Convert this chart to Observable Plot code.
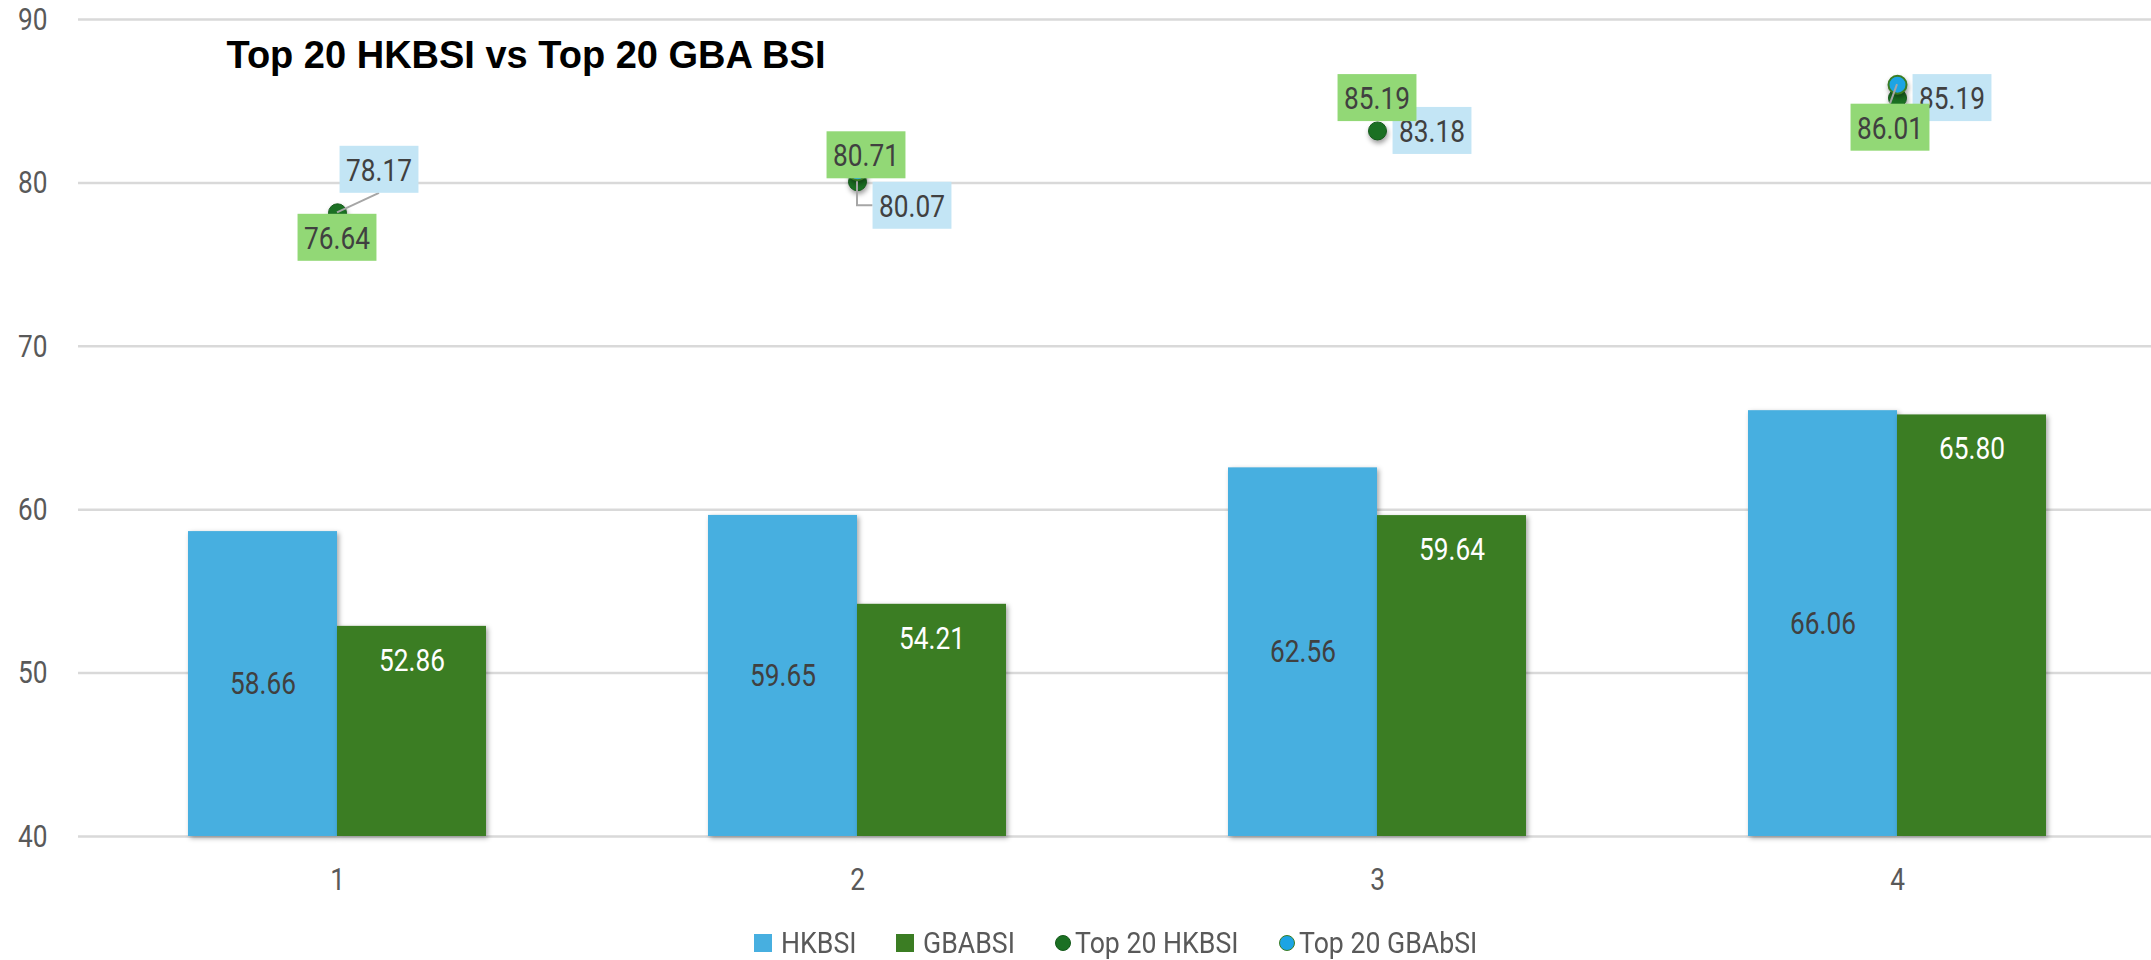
<!DOCTYPE html>
<html><head><meta charset="utf-8">
<script src="https://cdn.jsdelivr.net/npm/d3@7"></script>
<script src="https://cdn.jsdelivr.net/npm/@observablehq/plot@0.6"></script>
<style>
html,body{margin:0;padding:0;background:#fff;}
#chart{position:relative;width:2151px;height:960px;overflow:hidden;background:#fff;}
#legend{position:absolute;left:754px;top:926px;display:flex;align-items:center;height:34px;font-family:Roboto,sans-serif;font-size:29px;color:#595959;white-space:nowrap;}
.item{display:flex;align-items:center;margin-right:40px;}
.sw{width:18px;height:18px;margin-right:9px;flex:none;}
.dsw{width:14px;height:14px;border-radius:50%;margin-right:4px;border:1.5px solid transparent;flex:none;}
.lt{display:inline-block;transform-origin:0 50%;white-space:nowrap;}
</style></head><body><div id="chart"></div>
<script>
// ---- data ----
const categories = ["1", "2", "3", "4"];
const seriesNames = ["HKBSI", "GBABSI", "Top 20 HKBSI", "Top 20 GBAbSI"];
const hkbsi = [58.66, 59.65, 62.56, 66.06];
const gbabsi = [52.86, 54.21, 59.64, 65.80];
const top20hk = [78.17, 80.07, 83.18, 85.19];
const top20gba = [76.64, 80.71, 85.19, 86.01];
const yTicks = [40, 50, 60, 70, 80, 90];
const titleText = "Top 20 HKBSI vs Top 20 GBA BSI";

// ---- style / layout ----
const colors = {hk: "#47AFE0", gba: "#3B7D23", top20hk: "#1B7023", top20hkStroke: "#145a1a", top20gba: "#1CA4E4", top20gbaStroke: "#3B7D23",
  hkBox: "#C3E5F5", gbaBox: "#92D876", text: "#404040", axis: "#595959", grid: "#d9d9d9"};
const SQUEEZE = 0.82;        // condensed look for chart texts
const LEGEND_SQUEEZE = 0.92; // condensed look for legend texts
// label nudges (pixels) for point labels, [dx, dy, leader]
const hkNudge = [[42, -43, "line"], [55, 24, "elbow"], [55, 0, null], [55, 0, null]];
const gbaNudge = [[0, 0, null], [9, -16, null], [0, 0, null], [-7, 43, "line"]];

const W = 2151, H = 905;
const xRange = [77, 2157];
const padInner = 0.427, padOuter = padInner / 2;
const step = (xRange[1] - xRange[0]) / (categories.length - padInner + 2 * padOuter);
const bw = step * (1 - padInner);
const half = bw / 2;
const yMin = yTicks[0];

const barsHK = categories.map((c, i) => ({cat: c, value: hkbsi[i]}));
const barsGBA = categories.map((c, i) => ({cat: c, value: gbabsi[i]}));
const ptsHK = categories.map((c, i) => ({cat: c, value: top20hk[i], nudge: hkNudge[i], box: colors.hkBox}));
const ptsGBA = categories.map((c, i) => ({cat: c, value: top20gba[i], nudge: gbaNudge[i], box: colors.gbaBox}));

function pointLabels(index, scales) {
  const g = d3.create("svg:g").attr("aria-label", "point-labels");
  const bwid = (scales.x && scales.x.bandwidth) ? scales.x.bandwidth() : bw;
  const ctx = document.createElement("canvas").getContext("2d");
  ctx.font = "32px Roboto";
  const all = [...ptsHK, ...ptsGBA];
  const items = all.map(p => {
    const px = scales.x(p.cat) + bwid / 2, py = scales.y(p.value);
    const txt = p.value.toFixed(2);
    const w = ctx.measureText(txt).width * SQUEEZE + 13, h = 47;
    return {p, px, py, cx: px + p.nudge[0], cy: py + p.nudge[1], txt, w, h, leader: p.nudge[2]};
  });
  for (const it of items) {
    if (it.leader === "line") {
      const ey = it.p.nudge[1] < 0 ? it.cy + it.h / 2 : it.cy - it.h / 2;
      g.append("line").attr("x1", it.px).attr("y1", it.py).attr("x2", it.cx).attr("y2", ey)
        .attr("stroke", "#a6a6a6").attr("stroke-width", 2);
    } else if (it.leader === "elbow") {
      g.append("path").attr("d", `M${it.px},${it.py}V${it.cy}H${it.cx - it.w / 2}`)
        .attr("fill", "none").attr("stroke", "#a6a6a6").attr("stroke-width", 2);
    }
  }
  for (const it of items) {
    g.append("rect").attr("x", it.cx - it.w / 2).attr("y", it.cy - it.h / 2).attr("width", it.w).attr("height", it.h)
      .attr("fill", it.p.box);
    g.append("text").attr("x", it.cx).attr("y", it.cy).attr("dy", "0.36em").attr("text-anchor", "middle")
      .attr("fill", colors.text).attr("font-size", 32).text(it.txt);
  }
  return g.node();
}

const plot = Plot.plot({
  width: W, height: H,
  marginLeft: 78, marginRight: 0, marginTop: 19, marginBottom: 69,
  style: {fontFamily: "Roboto, sans-serif", fontSize: "32px", color: colors.axis, background: "white", overflow: "visible"},
  x: {type: "band", domain: categories, range: xRange, paddingInner: padInner, paddingOuter: padOuter},
  y: {domain: [yTicks[0], yTicks[yTicks.length - 1]]},
  marks: [
    Plot.gridY(yTicks, {stroke: colors.grid, strokeOpacity: 1, strokeWidth: 2.5}),
    Plot.axisY(yTicks, {tickSize: 0, tickPadding: 31, fill: colors.axis, fontSize: 32, label: null}),
    Plot.axisX({tickSize: 0, tickPadding: 31, fill: colors.axis, fontSize: 32, label: null}),
    Plot.barY(barsHK, {x: "cat", y1: () => yMin, y2: "value", fill: colors.hk, insetRight: half}),
    Plot.barY(barsGBA, {x: "cat", y1: () => yMin, y2: "value", fill: colors.gba, insetLeft: half}),
    Plot.text(barsHK, {x: "cat", y: d => (yMin + d.value) / 2, text: d => d.value.toFixed(2), dx: -half / 2, fill: colors.text, fontSize: 32}),
    Plot.text(barsGBA, {x: "cat", y: "value", text: d => d.value.toFixed(2), dx: half / 2, dy: 34, fill: "white", fontSize: 32}),
    Plot.dot(ptsHK, {x: "cat", y: "value", r: 9, fill: colors.top20hk, stroke: colors.top20hkStroke, strokeWidth: 1}),
    Plot.dot(ptsGBA, {x: "cat", y: "value", r: 9, fill: colors.top20gba, stroke: colors.top20gbaStroke, strokeWidth: 2}),
    pointLabels,
    Plot.text([titleText], {frameAnchor: "top-left", text: d => d, dx: 148, dy: 48, lineAnchor: "bottom", textAnchor: "start",
      fontSize: 38, fontWeight: "bold", fontFamily: "'Liberation Sans', Arial, sans-serif", fill: "black"})
  ]
});

plot.querySelectorAll('g[aria-label="bar"] rect').forEach(r => r.style.filter = "drop-shadow(2px 2px 2.5px rgba(0,0,0,0.35))");
plot.querySelectorAll('g[aria-label="dot"] circle').forEach(r => r.style.filter = "drop-shadow(1px 3px 2.5px rgba(0,0,0,0.4))");

const chart = document.getElementById("chart");
chart.appendChild(plot);

// condense all non-bold texts
plot.querySelectorAll("text").forEach(t => {
  const fw = getComputedStyle(t).fontWeight;
  if (fw === "700" || fw === "bold") return;
  const L = t.getComputedTextLength();
  if (L > 0) {
    t.setAttribute("textLength", (L * SQUEEZE).toFixed(2));
    t.setAttribute("lengthAdjust", "spacingAndGlyphs");
  }
});

// legend
const legend = document.createElement("div");
legend.id = "legend";
const swatches = [
  {cls: "sw", bg: colors.hk, border: "transparent"},
  {cls: "sw", bg: colors.gba, border: "transparent"},
  {cls: "dsw", bg: colors.top20hk, border: colors.top20hkStroke},
  {cls: "dsw", bg: colors.top20gba, border: colors.top20gbaStroke}
];
const labels = [];
seriesNames.forEach((name, i) => {
  const item = document.createElement("div");
  item.className = "item";
  const sw = document.createElement("span");
  sw.className = swatches[i].cls;
  sw.style.background = swatches[i].bg;
  sw.style.borderColor = swatches[i].border;
  const t = document.createElement("span");
  t.className = "lt";
  t.textContent = name;
  item.appendChild(sw); item.appendChild(t);
  legend.appendChild(item);
  labels.push(t);
});
chart.appendChild(legend);
labels.forEach(t => {
  const w = t.offsetWidth;
  t.style.width = (w * LEGEND_SQUEEZE) + "px";
  t.style.transform = `scaleX(${LEGEND_SQUEEZE})`;
});
</script>
</body></html>
